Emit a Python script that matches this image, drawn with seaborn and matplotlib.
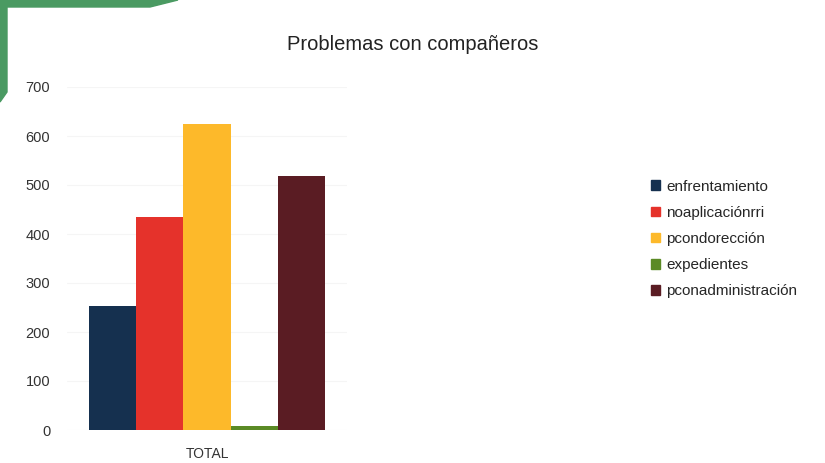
import matplotlib.pyplot as plt
import matplotlib.patches as mpatches
import seaborn as sns
import pandas as pd

categories = ["enfrentamiento", "noaplicaciónrri", "pcondorección", "expedientes", "pconadministración"]
values = [254, 434, 624, 8, 518]
group = ["TOTAL"] * len(categories)
colors = ["#15304f", "#e5322b", "#fdb92a", "#5b8a25", "#5a1c23"]

df = pd.DataFrame({"grupo": group, "problema": categories, "valor": values})

sns.set_theme(style="white")
plt.rcParams['font.family'] = ['Liberation Sans', 'DejaVu Sans']

fig = plt.figure(figsize=(8.25, 4.63), dpi=100)
ax = fig.add_axes([67 / 825, (463 - 430) / 463, 280 / 825, (430 - 87) / 463])

sns.barplot(data=df, x="grupo", y="valor", hue="problema", palette=colors,
            hue_order=categories, width=0.84, saturation=1, linewidth=0, ax=ax)

ax.set_ylim(0, 700)
ax.set_yticks(range(0, 701, 100))
ax.yaxis.grid(True, color="#f5f5f5", linewidth=0.8)
ax.set_axisbelow(True)
for s in ax.spines.values():
    s.set_visible(False)
ax.set_xlabel("")
ax.set_ylabel("")
ax.tick_params(axis="y", labelsize=10.5, colors="#333333", length=0, pad=12)
ax.tick_params(axis="x", labelsize=10, colors="#333333", length=0, pad=12)

handles = [mpatches.Patch(color=c, label=l) for c, l in zip(colors, categories)]
ax.legend(handles=handles, loc="center left", bbox_to_anchor=(637 / 825, 1 - 239 / 463),
          bbox_transform=fig.transFigure, frameon=False, fontsize=11,
          handlelength=0.6, handleheight=0.6, handletextpad=0.4, labelspacing=0.8)

fig.text(0.5, 1 - 45 / 463, "Problemas con compañeros", ha="center", va="center",
         fontsize=14.5, color="#222222")

# green frame from the scanned page
green = "#4a9a62"
fig.patches.append(mpatches.Polygon(
    [(0, 1), (178 / 825, 1), (150 / 825, 1 - 7 / 463), (7 / 825, 1 - 7 / 463),
     (7 / 825, 1 - 92 / 463), (0, 1 - 102 / 463)],
    closed=True, transform=fig.transFigure, color=green, zorder=0))

fig.savefig("out.png", dpi=100)
